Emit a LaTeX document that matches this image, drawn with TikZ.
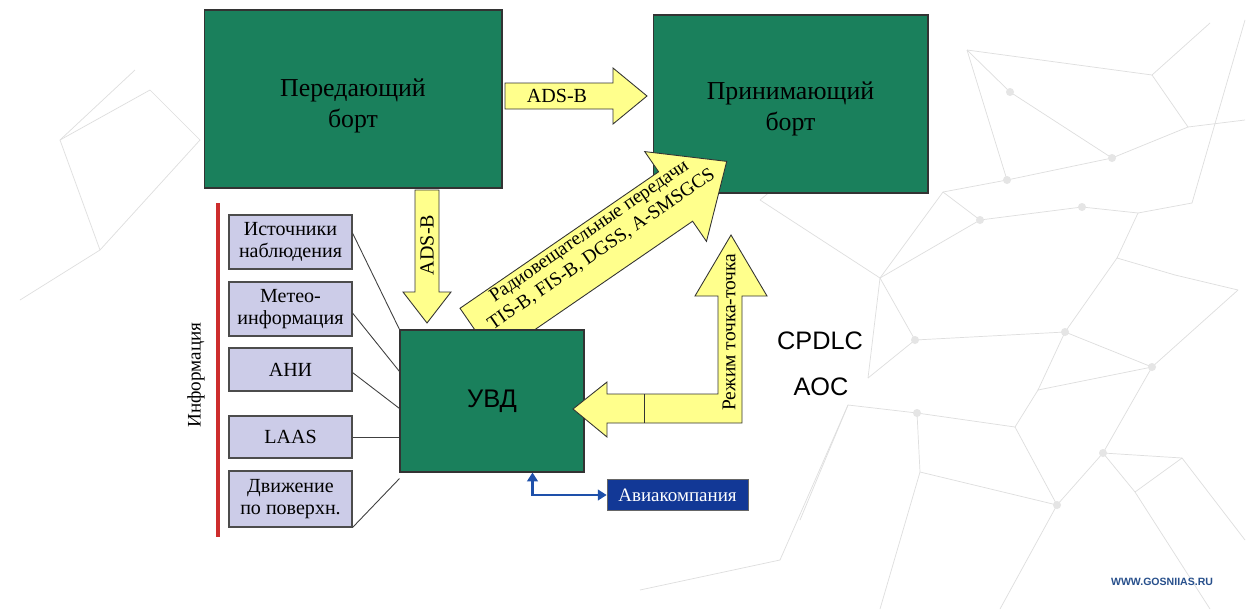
\documentclass[tikz,border=0pt]{standalone}
\usepackage{fontspec}
\setmainfont{Liberation Serif}
\setsansfont{Liberation Sans}
\usetikzlibrary{calc,arrows.meta}

\definecolor{boardgreen}{RGB}{26,128,92}
\definecolor{srclilac}{RGB}{204,204,232}
\definecolor{arrowyellow}{RGB}{255,255,140}
\definecolor{aviablue}{RGB}{18,56,150}
\definecolor{linkblue}{RGB}{30,80,170}
\definecolor{inforeed}{RGB}{205,45,45}
\definecolor{urlblue}{RGB}{40,80,140}

\begin{document}
\begin{tikzpicture}[x=0.02cm,y=-0.02cm,
  board/.style={draw=black!80,fill=boardgreen,line width=0.6pt,minimum width=5.96cm,minimum height=3.56cm},
  boardtext/.style={align=center,font=\fontsize{14.7}{18}\selectfont},
  srcbox/.style={draw=black!70,fill=srclilac,line width=0.6pt,minimum width=2.46cm,align=center,inner sep=1pt,font=\fontsize{11.4}{12.5}\selectfont},
  fatarrow/.style={draw=black!80,fill=arrowyellow,line width=0.5pt,line join=miter},
  mesh/.style={black!13,line width=0.4pt},
  link/.style={draw=linkblue,line width=1.2pt,{Triangle[length=5pt,width=6pt]}-{Triangle[length=5pt,width=6pt]}}]

\fill[white] (0,0) rectangle (1250,609);
\useasboundingbox (0,0) rectangle (1250,609);

% background mesh
\foreach \xa/\ya/\xb/\yb in {1210/23/1152/75, 1152/75/967/50, 967/50/1010/92, 1010/92/1112/158, 1152/75/1188/127,
  1188/127/1112/158, 1112/158/1007/180, 1007/180/943/192, 943/192/980/220, 980/220/1082/207,
  1082/207/1138/213, 1138/213/1192/203, 1192/203/1245/20, 1138/213/1117/258, 1117/258/1175/275,
  1175/275/1238/290, 880/278/943/192, 880/278/915/340, 915/340/1065/332, 1065/332/1117/258,
  1065/332/1152/367, 1152/367/1238/290, 1038/390/1065/332, 868/378/915/340, 848/405/917/413,
  917/413/1015/427, 1015/427/1038/390, 920/472/917/413, 1103/453/1152/367, 1103/453/1182/458,
  1135/492/1103/453, 1057/505/1015/427, 1135/492/1182/458, 920/472/1057/505, 1057/505/1103/453,
  1182/458/1245/540, 980/220/880/278, 1007/180/967/50, 1188/127/1245/120, 868/378/880/278,
  1038/390/1152/367, 848/405/800/520, 920/472/880/609, 1135/492/1210/609, 1057/505/1000/609,
  60/140/150/90, 150/90/200/140, 60/140/100/250, 100/250/200/140, 100/250/20/300, 135/70/60/140,
  780/560/848/405, 640/590/780/560, 760/200/880/278, 760/200/820/150}
  \draw[mesh] (\xa,\ya) -- (\xb,\yb);
\foreach \px/\py in {1010/92, 1112/158, 1007/180, 1082/207, 1152/367, 1065/332, 917/413, 1103/453, 1057/505, 980/220, 915/340}
  \fill[black!10] (\px,\py) circle (4);

\node[board] (sender) at (353,99) {};
\node[boardtext] (sendertxt) at ($(sender)+(0,7)$) {Передающий\\борт};
\node[board,minimum width=5.5cm] (receiver) at (790.5,104) {};
\node[boardtext] (receivertxt) at ($(receiver)+(0,5)$) {Принимающий\\борт};

% diagonal broadcast arrow
\begin{scope}[shift={(477,333)},rotate=34.5]
\draw[fatarrow] (0,-30) -- (241,-30) -- (241,-54.5) -- (303,0) -- (241,54.5) -- (241,30) -- (0,30) -- cycle;
\node[transform shape,align=center,font=\fontsize{11}{12.5}\selectfont] (bcast) at (150,-9)
  {Радиовещательные передачи\\TIS-B, FIS-B, DGSS, A-SMSGCS};
\end{scope}

\node[draw=black!80,fill=boardgreen,line width=0.6pt,minimum width=3.68cm,minimum height=2.84cm,font=\sffamily\fontsize{14.5}{16}\selectfont] (uvd) at (492,401) {УВД};

% ADS-B arrows
\draw[fatarrow] (505,83) -- (613,83) -- (613,68) -- (647,96) -- (613,124) -- (613,109) -- (505,109) -- cycle;
\node[font=\fontsize{11.4}{13}\selectfont] (adsbh) at (557,96) {ADS-B};

\draw[fatarrow] (415,190) -- (415,292) -- (403,292) -- (427,323) -- (451,292) -- (439,292) -- (439,190) -- cycle;
\node[rotate=90,font=\fontsize{11.4}{13}\selectfont] (adsbv) at (427,245) {ADS-B};

% point-to-point
\draw[fatarrow] (742,423) -- (607,423) -- (607,437) -- (573,409) -- (607,382) -- (607,394) -- (718,394)
  -- (718,296) -- (695,296) -- (731,235) -- (767,296) -- (742,296) -- cycle;
\draw[black!80,line width=0.5pt] (644,394) -- (644,423);
\node[rotate=90,font=\fontsize{11.1}{12}\selectfont] (p2p) at (729,332) {Режим точка-точка};

\node[font=\sffamily\fontsize{14.4}{16}\selectfont] (cpdlc) at (820,341) {CPDLC};
\node[font=\sffamily\fontsize{14.4}{16}\selectfont] (aoc) at (821,387) {AOC};

% information sources
\node[srcbox,minimum height=1.08cm] (obs) at (290.5,242) {Источники\\наблюдения};
\node[srcbox,minimum height=1.08cm] (meteo) at (290.5,309) {Метео-\\информация};
\node[srcbox,minimum height=0.86cm] (ani) at (290.5,369.5) {АНИ};
\node[srcbox,minimum height=0.84cm] (laas) at (290.5,437) {LAAS};
\node[srcbox,minimum height=1.12cm] (surf) at (290.5,499) {Движение\\по поверхн.};

\draw[black!75,line width=0.5pt] ($(obs.east)+(0,-9)$) -- (uvd.north west);
\draw[black!75,line width=0.5pt] ($(meteo.east)+(0,4)$) -- ($(uvd.north west)+(0,42)$);
\draw[black!75,line width=0.5pt] ($(ani.east)+(0,3)$) -- ($(uvd.north west)+(0,79)$);
\draw[black!75,line width=0.5pt] (laas.east) -- (laas.east -| uvd.west);
\draw[black!75,line width=0.5pt] (surf.south east) -- ($(uvd.south west)+(0,6)$);

\draw[inforeed,line width=1.8pt] (218,203) -- (218,537);
\node[rotate=90,font=\fontsize{10.9}{12}\selectfont] (info) at (196,375) {Информация};

% airline
\node[draw=black!60,fill=aviablue,text=white,minimum width=2.82cm,minimum height=0.62cm,inner sep=1pt,font=\fontsize{10.8}{12}\selectfont] (avia) at (677.5,495) {Авиакомпания};
\draw[link] ($(uvd.south west)+(133,0)$) |- (avia.west);

\node[text=urlblue,font=\sffamily\bfseries\fontsize{6}{7}\selectfont] (url) at (1162,582) {WWW.GOSNIIAS.RU};

\end{tikzpicture}
\end{document}
